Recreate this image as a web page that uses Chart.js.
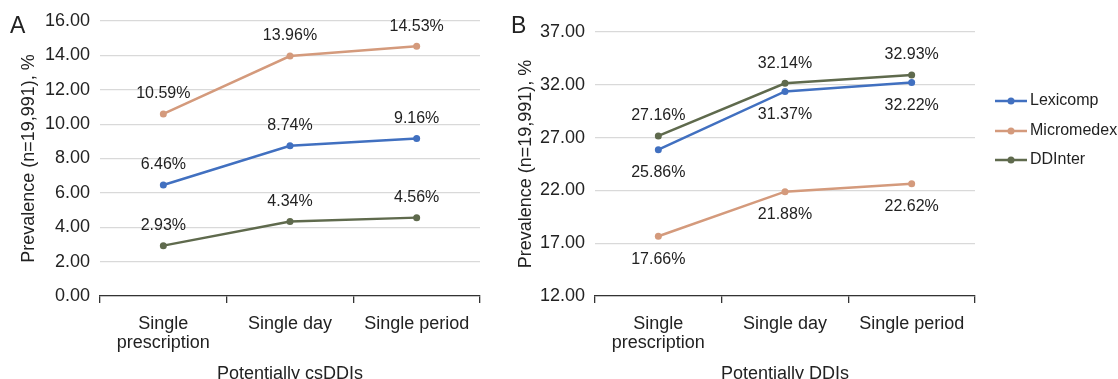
<!DOCTYPE html>
<html>
<head>
<meta charset="utf-8">
<script src="https://cdn.jsdelivr.net/npm/chart.js@4/dist/chart.umd.min.js"></script>
<style>
  html, body { margin: 0; padding: 0; background: #fff; }
  body { width: 1118px; height: 379px; position: relative; overflow: hidden;
         font-family: "Liberation Sans", Arial, sans-serif; color: #222; }
  .panel { position: absolute; top: 0; height: 379px; }
  #wrapA { left: 0; width: 490px; }
  #wrapB { left: 490px; width: 628px; }
  .tag { position: absolute; top: 12px; font-size: 23px; color: #222; }
</style>
</head>
<body>
<div class="panel" id="wrapA"><canvas id="chartA"></canvas></div>
<div class="panel" id="wrapB"><canvas id="chartB"></canvas></div>
<div class="tag" style="left:10px">A</div>
<div class="tag" style="left:511px">B</div>

<script>
// ---- Data ----
const categories = [['Single', 'prescription'], 'Single day', 'Single period'];
const seriesNames = ['Lexicomp', 'Micromedex', 'DDInter'];

// Panel A: potentially csDDIs
const csLexicomp   = [6.46, 8.74, 9.16];
const csMicromedex = [10.59, 13.96, 14.53];
const csDDInter    = [2.93, 4.34, 4.56];

// Panel B: potentially DDIs
const ddiLexicomp   = [25.86, 31.37, 32.22];
const ddiMicromedex = [17.66, 21.88, 22.62];
const ddiDDInter    = [27.16, 32.14, 32.93];

const colors = ['#4170c0', '#d49a7c', '#5f6a4d'];
const FONT = '"Liberation Sans", Arial, sans-serif';
const TEXT = '#222';

// ---- Data labels (drawn at the library's own point positions) ----
const valueLabels = {
  id: 'valueLabels',
  afterDatasetsDraw(chart) {
    const ctx = chart.ctx;
    ctx.save();
    ctx.font = '16px ' + FONT;
    ctx.fillStyle = TEXT;
    ctx.textAlign = 'center';
    ctx.textBaseline = 'middle';
    chart.data.datasets.forEach((ds, i) => {
      const meta = chart.getDatasetMeta(i);
      meta.data.forEach((pt, j) => {
        const dy = ds.labelPos === 'below' ? 23 : -20;
        ctx.fillText(ds.data[j].toFixed(2) + '%', pt.x, pt.y + dy);
      });
    });
    ctx.restore();
  }
};

// ---- Legend at right of panel B ----
const sideLegend = {
  id: 'sideLegend',
  afterDraw(chart, args, opts) {
    if (!opts.show) return;
    const ctx = chart.ctx;
    const x0 = chart.chartArea.right + 20;
    const rows = [69, 99, 128];
    ctx.save();
    ctx.font = '16px ' + FONT;
    ctx.textBaseline = 'middle';
    chart.data.datasets.forEach((ds, i) => {
      const y = chart.chartArea.top + rows[i];
      ctx.strokeStyle = ds.borderColor;
      ctx.lineWidth = 2.5;
      ctx.beginPath();
      ctx.moveTo(x0, y);
      ctx.lineTo(x0 + 32, y);
      ctx.stroke();
      ctx.fillStyle = ds.borderColor;
      ctx.beginPath();
      ctx.arc(x0 + 16, y, 3.5, 0, 2 * Math.PI);
      ctx.fill();
      ctx.fillStyle = TEXT;
      ctx.fillText(ds.label, x0 + 35, y);
    });
    ctx.restore();
  }
};

function makeDatasets(values, positions) {
  return values.map((v, i) => ({
    label: seriesNames[i],
    data: v,
    borderColor: colors[i],
    backgroundColor: colors[i],
    borderWidth: 2.5,
    pointRadius: 3.5,
    pointHoverRadius: 3.5,
    pointBorderWidth: 0,
    tension: 0,
    labelPos: positions[i]
  }));
}

function makeChart(id, values, positions, cfg) {
  return new Chart(document.getElementById(id), {
    type: 'line',
    data: { labels: categories, datasets: makeDatasets(values, positions) },
    plugins: [valueLabels, sideLegend],
    options: {
      responsive: true,
      maintainAspectRatio: false,
      animation: false,
      events: [],
      layout: { padding: { top: cfg.top, right: cfg.right, left: 0, bottom: 0 } },
      plugins: {
        legend: { display: false },
        tooltip: { enabled: false },
        sideLegend: { show: cfg.legend }
      },
      scales: {
        x: {
          offset: true,
          afterFit: s => { s.height = 379 - cfg.bottom; },
          grid: { offset: true, drawOnChartArea: false, drawTicks: true, tickLength: 7, color: '#333', lineWidth: 1.3 },
          border: { display: true, color: '#333', width: 1.3 },
          ticks: { color: TEXT, font: { family: FONT, size: 18, lineHeight: 1.08 }, padding: 11, maxRotation: 0, autoSkip: false },
          title: { display: true, text: cfg.xTitle, color: TEXT, font: { family: FONT, size: 18 }, padding: { top: 0, bottom: -6 } }
        },
        y: {
          min: cfg.min, max: cfg.max,
          afterFit: s => { s.width = cfg.yWidth; },
          grid: { color: '#d9d9d9', lineWidth: 1.2, drawTicks: false },
          border: { display: false },
          ticks: { stepSize: cfg.step, color: TEXT, font: { family: FONT, size: 18 }, padding: 10,
                   callback: v => Number(v).toFixed(2) },
          title: { display: true, text: 'Prevalence (n=19,991), %', color: TEXT, font: { family: FONT, size: 18 },
                   padding: { top: cfg.titlePad, bottom: 0 } }
        }
      }
    }
  });
}

makeChart('chartA', [csLexicomp, csMicromedex, csDDInter], ['above', 'above', 'above'], {
  top: 21, right: 10, bottom: 296, yWidth: 100, min: 0, max: 16, step: 2,
  titlePad: 18, xTitle: 'Potentially csDDIs', legend: false
});

makeChart('chartB', [ddiLexicomp, ddiMicromedex, ddiDDInter], ['below', 'below', 'above'], {
  top: 32, right: 143, bottom: 296, yWidth: 105, min: 12, max: 37, step: 5,
  titlePad: 25, xTitle: 'Potentially DDIs', legend: true
});
</script>
</body>
</html>
